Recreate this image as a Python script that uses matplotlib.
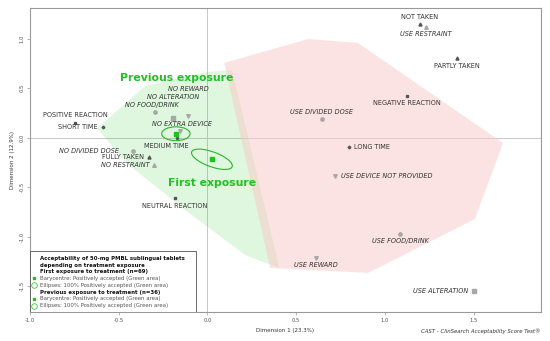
import matplotlib
matplotlib.use("Agg")
import matplotlib.pyplot as plt
from matplotlib.patches import Ellipse, Polygon, Rectangle

# ---------------- data ----------------
modalities = ["NOT TAKEN", "USE RESTRAINT", "PARTLY TAKEN", "NEGATIVE REACTION",
              "USE DIVIDED DOSE", "LONG TIME", "USE DEVICE NOT PROVIDED",
              "USE FOOD/DRINK", "USE REWARD", "USE ALTERATION",
              "POSITIVE REACTION", "SHORT TIME", "NO FOOD/DRINK", "NO ALTERATION",
              "NO REWARD", "NO EXTRA DEVICE", "MEDIUM TIME", "NO DIVIDED DOSE",
              "FULLY TAKEN", "NO RESTRAINT", "NEUTRAL REACTION"]
dim1 = [1.196, 1.231, 1.404, 1.123, 0.644, 0.798, 0.721, 1.085, 0.612, 1.502,
        -0.745, -0.586, -0.294, -0.197, -0.107, -0.152, -0.172, -0.422,
        -0.327, -0.304, -0.182]
dim2 = [1.146, 1.122, 0.803, 0.419, 0.190, -0.090, -0.383, -0.969, -1.214, -1.547,
        0.153, 0.109, 0.264, 0.203, 0.220, 0.072, 0.000, -0.130,
        -0.191, -0.272, -0.611]

# acceptability areas (hull vertices, dimension 1 / dimension 2)
green_area_d1 = [-0.621, -0.351, -0.002, 0.139, 0.405, 0.212, -0.126, -0.463]
green_area_d2 = [0.099, 0.523, 0.665, 0.685, -1.315, -1.184, -0.729, -0.244]
red_area_d1 = [0.094, 0.568, 0.848, 1.665, 1.507, 0.905, 0.353]
red_area_d2 = [0.756, 0.998, 0.958, -0.053, -0.820, -1.365, -1.315]

# barycentres and ellipses
groups = ["First exposure", "Previous exposure"]
bary_d1 = [0.025, -0.178]
bary_d2 = [-0.217, 0.041]
ell_w = [0.28, 0.16]
ell_h = [0.13, 0.14]
ell_angle = [-40, 0]

x_ticks = [-1.0, -0.5, 0.0, 0.5, 1.0, 1.5]
y_ticks = [-1.5, -1.0, -0.5, 0.0, 0.5, 1.0]

legend_lines = ["Acceptability of 50-mg PMBL sublingual tablets",
                "depending on treatment exposure",
                "First exposure to treatment (n=69)",
                "Barycentre: Positively accepted (Green area)",
                "Ellipses: 100% Positively accepted (Green area)",
                "Previous exposure to treatment (n=36)",
                "Barycentre: Positively accepted (Green area)",
                "Ellipses: 100% Positively accepted (Green area)"]

# ---------------- styles ----------------
DARK = "#555555"
LIGHT = "#a8a8a8"
# marker, colour, size, offset (pt), ha, va, italic
style = {
    "NOT TAKEN": ("^", DARK, 2.2, (0, 5.5), "center", "center", False),
    "USE RESTRAINT": ("^", LIGHT, 2.6, (0, -5.5), "center", "center", True),
    "PARTLY TAKEN": ("^", DARK, 2.2, (0, -5.3), "center", "center", False),
    "NEGATIVE REACTION": ("s", DARK, 1.8, (0, -5.0), "center", "center", False),
    "USE DIVIDED DOSE": ("o", LIGHT, 2.4, (0, 5.3), "center", "center", True),
    "LONG TIME": ("D", DARK, 1.4, (3.6, 0), "left", "center", False),
    "USE DEVICE NOT PROVIDED": ("v", LIGHT, 2.6, (4.0, 0), "left", "center", True),
    "USE FOOD/DRINK": ("o", LIGHT, 2.4, (0, -5.3), "center", "center", True),
    "USE REWARD": ("v", LIGHT, 2.6, (0, -4.9), "center", "center", True),
    "USE ALTERATION": ("s", LIGHT, 2.2, (-4.3, 0), "right", "center", True),
    "POSITIVE REACTION": ("s", DARK, 1.8, (0, 5.5), "center", "center", False),
    "SHORT TIME": ("D", DARK, 1.4, (-4.0, 0), "right", "center", False),
    "NO FOOD/DRINK": ("o", LIGHT, 2.4, (-2.4, 4.6), "center", "center", True),
    "NO ALTERATION": ("s", LIGHT, 2.2, (0.7, 15.1), "center", "center", True),
    "NO REWARD": ("v", LIGHT, 2.6, (0, 19.2), "center", "center", True),
    "NO EXTRA DEVICE": ("v", LIGHT, 2.6, (1.0, 4.6), "center", "center", True),
    "MEDIUM TIME": ("D", DARK, 1.4, (-7.9, -5.8), "center", "center", False),
    "NO DIVIDED DOSE": ("o", LIGHT, 2.4, (-10.0, 0), "right", "center", True),
    "FULLY TAKEN": ("^", DARK, 2.2, (-3.8, 0), "right", "center", False),
    "NO RESTRAINT": ("^", LIGHT, 2.6, (-3.0, 0), "right", "center", True),
    "NEUTRAL REACTION": ("s", DARK, 1.8, (0, -5.3), "center", "center", False),
}
GREEN_TXT = "#22c022"
GREEN_EDGE = "#2bb52b"

fig = plt.figure(figsize=(5.5, 3.41), dpi=100)
ax = fig.add_axes([0.0545, 0.085, 0.9285, 0.8915])
ax.set_xlim(-1.0, 1.877)
ax.set_ylim(-1.76, 1.311)

# areas
ax.add_patch(Polygon(list(zip(green_area_d1, green_area_d2)), closed=True,
                     facecolor=(60/255, 210/255, 60/255), alpha=0.17,
                     edgecolor="none", zorder=1))
ax.add_patch(Polygon(list(zip(red_area_d1, red_area_d2)), closed=True,
                     facecolor=(251/255, 200/255, 200/255), alpha=0.5,
                     edgecolor="none", zorder=1))

ax.axhline(0, color="#c8c8c8", lw=0.7, zorder=0.5)
ax.axvline(0, color="#c8c8c8", lw=0.7, zorder=0.5)

# modalities
for lab, x, y in zip(modalities, dim1, dim2):
    mk, col, ms, off, ha, va, it = style[lab]
    ax.plot([x], [y], marker=mk, color=col, markersize=ms, ls="none", zorder=3)
    ax.annotate(lab, (x, y), xytext=off, textcoords="offset points",
                ha=ha, va=va, fontsize=4.7, color="#333333",
                fontstyle="italic" if it else "normal", zorder=4)

# barycentres / ellipses
for g, x, y, w, h, a in zip(groups, bary_d1, bary_d2, ell_w, ell_h, ell_angle):
    ax.add_patch(Ellipse((x, y), w, h, angle=a, fill=False,
                         edgecolor=GREEN_EDGE, lw=0.8, zorder=3))
    ax.plot([x], [y], marker="s", color="#1fc01f", markersize=2.6, ls="none", zorder=4)

ax.text(-0.176, 0.607, "Previous exposure", fontsize=7.8, fontweight="bold",
        color=GREEN_TXT, ha="center", va="center", zorder=5)
ax.text(0.025, -0.46, "First exposure", fontsize=7.8, fontweight="bold",
        color=GREEN_TXT, ha="center", va="center", zorder=5)

# axes styling
ax.set_xticks(x_ticks)
ax.set_yticks(y_ticks)
ax.set_xticklabels([f"{v:.1f}" for v in x_ticks], fontsize=3.8, color="#555555")
ax.set_yticklabels([f"{v:.1f}" for v in y_ticks], fontsize=3.8, color="#555555",
                   rotation=90, va="center")
ax.tick_params(length=2, width=0.5, color="#999999", pad=2)
for s in ax.spines.values():
    s.set_color("#999999")
    s.set_linewidth(0.8)
ax.set_xlabel("Dimension 1 (23.3%)", fontsize=4, color="#333333", labelpad=4)
ax.set_ylabel("Dimension 2 (12.9%)", fontsize=4, color="#333333", labelpad=3)
fig.text(0.982, 0.030, "CAST - ClinSearch Acceptability Score Test®", fontsize=3.9,
         fontstyle="italic", color="#333333", ha="right", va="center")

# legend box
ax.add_patch(Rectangle((0, 0), 0.326, 0.2016, transform=ax.transAxes,
                       facecolor="white", edgecolor="#555555", lw=0.6, zorder=6))
ly = [0.1766, 0.1546, 0.1326, 0.1109, 0.0878, 0.0658, 0.0438, 0.0207]
bold = [True, True, True, False, False, True, False, False]
for txt, yy, b in zip(legend_lines, ly, bold):
    ax.text(0.0196, yy, txt, transform=ax.transAxes, fontsize=3.9,
            fontweight="bold" if b else "normal",
            color="#111111" if b else "#555555", va="center", ha="left", zorder=7)
for yy in (ly[3], ly[6]):
    ax.plot([0.0075], [yy], transform=ax.transAxes, marker="s", color="#1fc01f",
            markersize=2.0, ls="none", zorder=7, clip_on=False)
for yy in (ly[4], ly[7]):
    ax.plot([0.0075], [yy], transform=ax.transAxes, marker="o", mfc="none",
            mec="#3cc83c", markersize=4.0, mew=0.6, ls="none", zorder=7, clip_on=False)

fig.savefig("out.png", dpi=100)
